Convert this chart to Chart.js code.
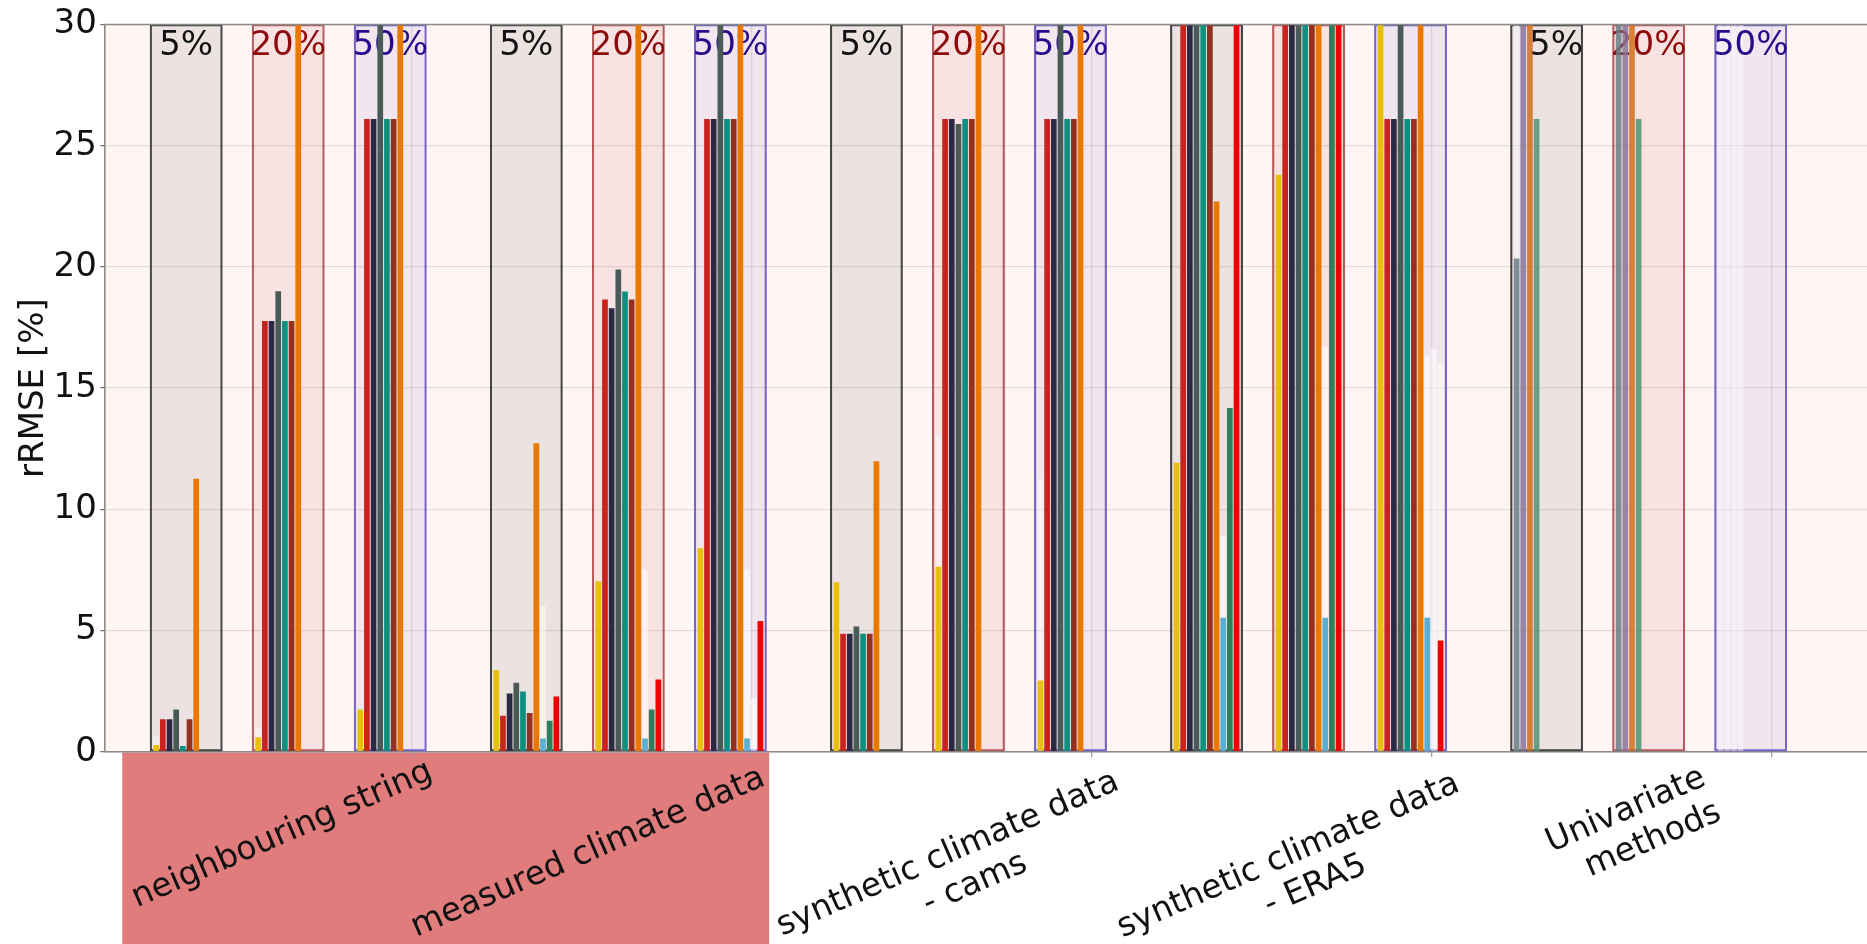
<!DOCTYPE html>
<html><head><meta charset="utf-8">
<script src="https://cdn.jsdelivr.net/npm/chart.js@4.4.1/dist/chart.umd.min.js"></script>
<style>html,body{margin:0;padding:0;background:#fff;overflow:hidden}canvas{display:block}</style>
</head><body>
<canvas id="c" width="1867" height="944" style="width:1867px;height:944px"></canvas>
<script>
// ---------- categories ----------
const sections = ['neighbouring string', 'measured climate data', 'synthetic climate data\n- cams', 'synthetic climate data\n- ERA5', 'Univariate\nmethods'];
const levels = ['5%', '20%', '50%'];
const yTicks = [0, 5, 10, 15, 20, 25, 30];
// group order: each section x each level (15 groups); values above 30 run off the chart
const s1 = [0.28, 0.6, 1.74, 3.37, 7.03, 8.39, 6.99, 7.63, 2.94, 11.92, 23.8, 31, null, null, null];
const s2 = [1.34, 17.77, 26.1, 1.48, 18.65, 26.1, 4.87, 26.1, 26.1, 31, 31, 26.1, null, null, null];
const s3 = [1.34, 17.77, 26.1, 2.4, 18.29, 26.1, 4.87, 26.1, 26.1, 31, 31, 26.1, null, null, null];
const s4 = [1.74, 19.0, 31, 2.84, 19.89, 31, 5.17, 25.9, 31, 31, 31, 31, null, null, null];
const s5 = [0.24, 17.77, 26.1, 2.48, 18.99, 26.1, 4.87, 26.1, 26.1, 31, 31, 26.1, null, null, null];
const s6 = [1.34, 17.77, 26.1, 1.6, 18.65, 26.1, 4.87, 26.1, 26.1, 31, 31, 26.1, null, null, null];
const s7 = [11.26, 31, 31, 12.72, 31, 31, 11.98, 31, 31, 22.7, 31, 31, null, null, null];
const s8 = [null, null, null, 0.54, 0.54, 0.54, null, null, null, 5.53, 5.53, 5.53, null, null, null];
const s9 = [null, null, null, 1.28, 1.74, null, null, null, null, 14.18, 31, null, null, null, null];
const s10 = [null, null, null, 2.28, 2.98, 5.39, null, null, null, 31, 31, 4.59, null, null, null];
const u1 = [null, null, null, null, null, null, null, null, null, null, null, null, 20.35, 31, null];
const u2 = [null, null, null, null, null, null, null, null, null, null, null, null, 31, 31, null];
const u3 = [null, null, null, null, null, null, null, null, null, null, null, null, 31, 31, null];
const u4 = [null, null, null, null, null, null, null, null, null, null, null, null, 26.1, 26.1, null];
// faint (washed-out) bars visible behind some slots
const g0 = [0.64, 0.94, null, null, null, null, null, 13.06, 11.26, null, null, null, 31, null, 31];
const g1 = [null, null, null, null, null, null, null, null, null, null, null, null, null, null, 31];
const g2 = [null, null, null, null, null, null, null, null, null, null, null, null, null, null, 31];
const g3 = [null, null, null, null, null, null, null, null, null, null, null, null, null, null, 31];
const g7 = [null, null, null, 6.0, 7.5, 7.5, null, null, null, 8.9, 16.7, 16.3, null, null, null];
const g8 = [null, null, null, null, null, 2.2, null, null, null, null, null, 16.6, null, null, null];
const g9 = [null, null, null, null, null, null, null, null, null, null, null, 16.0, null, null, null];

// ---------- layout / style ----------
const SECTION_STEP = 10, LEVEL_STEP = 3;
const groupX = [];
sections.forEach((s, si) => levels.forEach((l, li) => groupX.push(si * SECTION_STEP + li * LEVEL_STEP)));
const groupLevel = groupX.map((x, i) => i % levels.length);
const groupSection = groupX.map((x, i) => Math.floor(i / levels.length));
const sepTicks = sections.map((s, si) => si * SECTION_STEP + 1.62);

const mainColors = ['#E8C00C', '#C8231E', '#2B2A45', '#4A5B57', '#0E9080', '#93301F', '#E97700', '#5BAFD3', '#2E7D5B', '#F20000'];
const uniColors = ['rgba(106,125,133,0.85)', 'rgba(138,115,155,0.85)', 'rgba(208,110,28,0.85)', 'rgba(83,146,113,0.85)'];
const boxFill = ['rgba(0,0,0,0.075)', 'rgba(190,40,40,0.085)', 'rgba(90,50,170,0.075)'];
const boxBorder = ['rgba(40,40,40,0.85)', 'rgba(165,55,55,0.8)', 'rgba(95,75,190,0.85)'];
const levelTextColor = ['#111111', '#8C0A0A', '#2A0A8C'];

const pts = vals => vals.map((v, i) => ({x: groupX[i], y: v}));
const datasets = [];
[s1, s2, s3, s4, s5, s6, s7, s8, s9, s10].forEach((vals, k) => datasets.push({
  label: 'method ' + (k + 1), data: pts(vals), backgroundColor: mainColors[k], stack: 's' + k, order: 0
}));
[u1, u2, u3, u4].forEach((vals, k) => datasets.push({
  label: 'univariate ' + (k + 1), data: pts(vals), backgroundColor: uniColors[k], stack: 's' + k, order: 0
}));
[[g0, 0], [g1, 1], [g2, 2], [g3, 3], [g7, 7], [g8, 8], [g9, 9]].forEach(([vals, k]) => datasets.push({
  label: 'faint ' + k, data: pts(vals), backgroundColor: k < 4 ? 'rgba(248,250,255,0.5)' : 'rgba(255,255,255,0.55)', stack: 's' + k, order: 2
}));
datasets.push({
  label: 'boxes', data: groupX.map(x => ({x: x, y: 30})), grouped: false, barThickness: 72.3, order: 5,
  backgroundColor: groupLevel.map(l => boxFill[l]), borderColor: groupLevel.map(l => boxBorder[l]),
  borderWidth: 1.5, borderSkipped: false
});

const FONT = 'DejaVu Sans';
let levelTextDrawn = false;
function drawLevelText(chart) {
  const {ctx, chartArea: a, scales: {x}} = chart;
  ctx.save();
  ctx.font = '34px "' + FONT + '"';
  ctx.textAlign = 'center'; ctx.textBaseline = 'alphabetic';
  groupX.forEach((gx, i) => {
    if (groupSection[i] === 3) return;
    const lvl = groupLevel[i];
    const shift = (i === 12) ? 9.4 : 0;
    ctx.fillStyle = levelTextColor[lvl];
    ctx.fillText(levels[lvl], x.getPixelForValue(gx) + shift, a.top + 30.5);
  });
  ctx.restore();
}
const decor = {
  id: 'decor',
  beforeDraw(chart) {
    const {ctx, chartArea: a, scales: {x}} = chart;
    ctx.save();
    ctx.fillStyle = '#FEF5F4';
    ctx.fillRect(a.left, a.top, a.right - a.left, a.bottom - a.top);
    ctx.fillStyle = '#E07C7C';
    const l = x.getPixelForValue(-1.88), r = x.getPixelForValue(17.14);
    ctx.fillRect(l, a.bottom + 0.8, r - l, chart.height - a.bottom);
    ctx.restore();
  },
  beforeDatasetsDraw() { levelTextDrawn = false; },
  beforeDatasetDraw(chart, args) {
    // level labels: above boxes and faint bars, behind the coloured bars
    if (!levelTextDrawn && chart.data.datasets[args.index].order === 0) {
      drawLevelText(chart);
      levelTextDrawn = true;
    }
  },
  afterDatasetsDraw(chart) {
    const {ctx, chartArea: a} = chart;
    if (!levelTextDrawn) { drawLevelText(chart); levelTextDrawn = true; }
    ctx.save();
    ctx.strokeStyle = '#8a8a8a'; ctx.lineWidth = 1.6;
    ctx.beginPath(); ctx.moveTo(a.left, a.top); ctx.lineTo(a.right, a.top); ctx.stroke();
    ctx.restore();
  },
  afterDraw(chart) {
    const {ctx, scales: {x}} = chart;
    const dx = [-6, -40.2, -20.5, -20.1, -22.8];
    const cy = [835, 852.8, 854.3, 855.9, 810.5];
    const ang = -23.5 * Math.PI / 180;
    ctx.save();
    ctx.font = '33px "' + FONT + '"';
    ctx.fillStyle = '#111';
    ctx.textAlign = 'center'; ctx.textBaseline = 'middle';
    sections.forEach((s, si) => {
      const px = x.getPixelForValue(si * SECTION_STEP + LEVEL_STEP) + dx[si];
      ctx.save();
      ctx.translate(px, cy[si]);
      ctx.rotate(ang);
      s.split('\n').forEach((line, li) => ctx.fillText(line, li * 13, li * 38));
      ctx.restore();
    });
    ctx.restore();
  }
};

new Chart(document.getElementById('c'), {
  type: 'bar',
  data: {datasets},
  plugins: [decor],
  options: {
    responsive: false, animation: false, devicePixelRatio: 1,
    layout: {padding: {top: 24.5, right: 0, bottom: 0, left: 0}},
    plugins: {legend: {display: false}, tooltip: {enabled: false}},
    datasets: {bar: {categoryPercentage: 0.654, barPercentage: 0.855}},
    scales: {
      x: {
        type: 'linear', min: -2.408, max: 49.42, offset: false,
        afterBuildTicks: s => { s.ticks = sepTicks.map(v => ({value: v})); },
        ticks: {display: false},
        grid: {color: 'rgba(0,0,0,0.09)', lineWidth: 1.3, tickLength: 5, tickColor: '#9a9a9a'},
        border: {color: '#8a8a8a', width: 1.6},
        afterFit: s => { s.height = 944 - 751.7; }
      },
      y: {
        min: 0, max: 30, stacked: false,
        afterBuildTicks: s => { s.ticks = yTicks.map(v => ({value: v})); },
        ticks: {font: {family: FONT, size: 34}, color: '#111', padding: 3.5},
        grid: {color: 'rgba(0,0,0,0.10)', lineWidth: 1.3, tickLength: 4, tickColor: '#777'},
        border: {color: '#8a8a8a', width: 1.6},
        title: {display: true, text: 'rRMSE [%]', font: {family: FONT, size: 34}, color: '#111', padding: {top: 13.4, bottom: 0}},
        afterFit: s => { s.width = 104.3; }
      }
    }
  }
});
</script>
</body></html>
